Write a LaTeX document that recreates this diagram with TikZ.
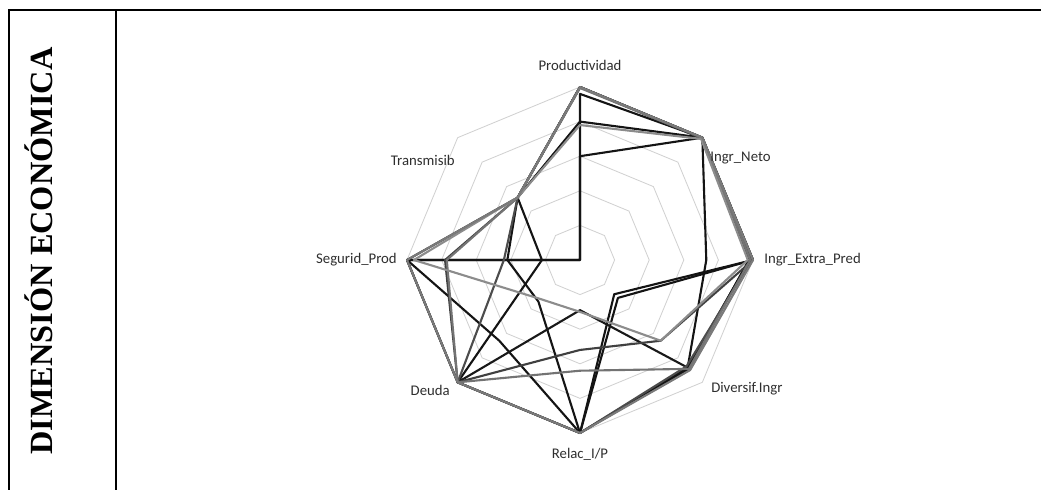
\documentclass[tikz,border=0pt]{standalone}
\usepackage{fontspec}
\setmainfont{Liberation Serif}
\newfontfamily\lblfont{Carlito}
\begin{document}
\begin{tikzpicture}[x=0.025cm,y=0.025cm,
  frame/.style={line width=1.5pt,black},
  gridline/.style={draw=black!18,line width=0.6pt},
  ser/.style={line width=1.5pt,line join=round},
  lbl/.style={font=\lblfont\fontsize{10.5}{12}\selectfont,text=black!82,inner sep=0pt},
  title/.style={font=\bfseries\fontsize{23}{26}\selectfont,rotate=90,inner sep=0pt}]
\useasboundingbox (0,0) rectangle (1041,490);
% table frame
\coordinate (tl) at (9,480);
\coordinate (tr) at (1041,480);
\coordinate (bl) at (9,0);
\coordinate (dt) at (116,480);
\coordinate (db) at (116,0);
\draw[frame] (bl) -- (tl) -- (tr);
\draw[frame] (dt) -- (db);
\node[title] (ttl) at (38.5,239) {DIMENSIÓN ECONÓMICA};
% radar chart
\def\u{34.6}
\newcommand\rdr[9]{\draw[ser,#1] (90:#2*\u) -- (45:#3*\u) -- (0:#4*\u) -- (-45:#5*\u) -- (-90:#6*\u) -- (-135:#7*\u) -- (180:#8*\u) -- (135:#9*\u) -- cycle;}
\begin{scope}[shift={(580,230)}]
  \foreach \k in {1,...,5}{
    \draw[gridline] (90:\k*\u) -- (45:\k*\u) -- (0:\k*\u) -- (-45:\k*\u) -- (-90:\k*\u) -- (-135:\k*\u) -- (180:\k*\u) -- (135:\k*\u) -- cycle;
  }
  \rdr{black!92}{4.8}{5}{4.88}{4.45}{5}{5}{5}{0}
  \rdr{black!92}{3}{5}{3.65}{4.4}{5}{3.3}{5}{0}
  \rdr{black!92}{4}{5}{5}{1.4}{5}{1.7}{2.1}{2.55}
  \rdr{black!92}{5}{5}{5}{1.55}{5}{5}{1.1}{2.55}
  \rdr{black!90}{5}{5}{4.9}{4.4}{1.45}{5}{5}{2.55}
  \rdr{black!75}{5}{4.97}{5}{3.3}{2.6}{5}{3.9}{2.55}
  \rdr{black!70}{5}{5}{4.96}{4.35}{5}{5}{2.2}{2.55}
  \rdr{black!55}{4.97}{5}{4.92}{4.45}{3.2}{5}{3.85}{2.55}
  \rdr{black!45}{3.9}{4.95}{4.85}{3.3}{1.5}{1.6}{4.8}{2.55}
  \rdr{black!52}{5}{5}{5}{4.5}{5}{5}{5}{2.55}
  \node[lbl,anchor=base] (lP) at (0,5*\u+16) {Productividad};
  \node[lbl,anchor=west] (lIN) at (130,102) {Ingr\_Neto};
  \node[lbl,anchor=west] (lIE) at (184,0) {Ingr\_Extra\_Pred};
  \node[lbl,anchor=west] (lDI) at (131,-129) {Diversif.Ingr};
  \node[lbl] (lR) at (0,-194) {Relac\_I/P};
  \node[lbl,anchor=east] (lD) at (-130,-130) {Deuda};
  \node[lbl,anchor=east] (lS) at (-183,0) {Segurid\_Prod};
  \node[lbl,anchor=east] (lT) at (-125,100) {Transmisib};
\end{scope}
\end{tikzpicture}
\end{document}
